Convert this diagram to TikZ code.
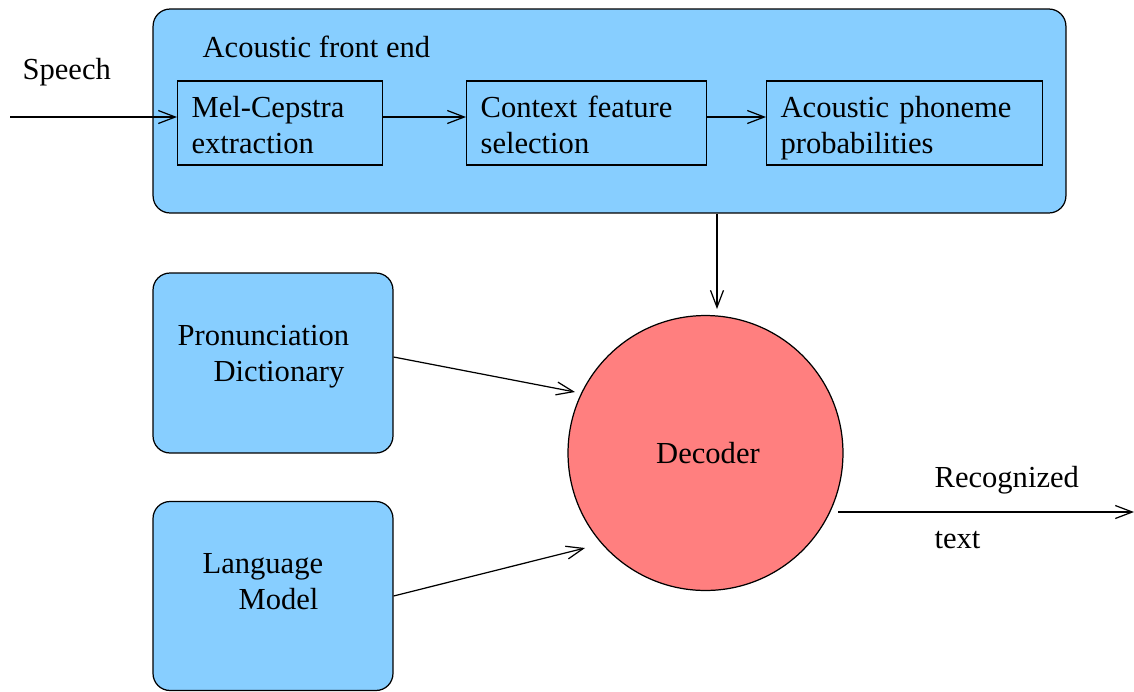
\documentclass[tikz,border=0pt]{standalone}
\usepackage{fontspec}
\setmainfont{Liberation Serif}
\usepackage{xcolor}
\usetikzlibrary{arrows.meta}

\definecolor{paleblue}{HTML}{87CEFF}
\definecolor{palered}{HTML}{FF7F7F}

\begin{document}
\begin{tikzpicture}[x=0.02cm,y=-0.02cm,line width=0.7pt,
  font=\fontsize{17.4}{20.5}\selectfont]
\tikzstyle{bigbox} = [draw, fill=paleblue, rounded corners=0.34cm]
\tikzstyle{stage} = [draw, fill=paleblue, align=left, anchor=west,
  minimum height=1.68cm, inner xsep=0.28cm, inner ysep=0pt, text width=3.4cm,
  execute at begin node=\rule{0pt}{20.4pt}, execute at end node=\strut]
\tikzstyle{flow} = [draw, -{Straight Barb[length=0.34cm,width=0.26cm]}]
%
\useasboundingbox (0,0) rectangle (1134,691);

	% acoustic front end
	\node[bigbox, minimum width=18.26cm, minimum height=4.08cm] (frontend) at (609.5,111) {};
	\node[anchor=west, inner sep=0pt] (fetitle) at (202,47) {Acoustic front end};
	\node[stage, text width=3.54cm] (melcep) at (177,123) {Mel-Cepstra\\extraction};
	\node[stage, text width=4.24cm] (context) at (466,123) {Context feature\\selection};
	\node[stage, text width=4.96cm] (phoneme) at (766,123) {Acoustic phoneme\\probabilities};

	% knowledge sources
	\node[bigbox, minimum width=4.8cm, minimum height=3.6cm] (dict) at (273,363) {};
	\node[anchor=north west, align=left, inner sep=0pt] (dicttext) at (177,325)
		{Pronunciation\\\hspace*{0.72cm}Dictionary};
	\node[bigbox, minimum width=4.8cm, minimum height=3.78cm] (langmodel) at (273,596) {};
	\node[anchor=north west, align=left, inner sep=0pt] (lmtext) at (202,553)
		{Language\\\hspace*{0.72cm}Model};

	% decoder
	\node[draw, circle, fill=palered, minimum size=5.5cm] (decoder) at (705.5,453)
		{\hspace*{0.1cm}Decoder};

	% inputs and outputs
	\coordinate (speechin) at (10,117);
	\node[anchor=west, inner sep=0pt] (speech) at (22,72) {Speech};
	\coordinate (fedown) at (717,309);
	\coordinate (dictin) at (575,392);
	\coordinate (lmin) at (585,548);
	\coordinate (textout) at (1134,512);
	\node[anchor=west, inner sep=0pt] (recog) at (934,480) {Recognized};
	\node[anchor=west, inner sep=0pt] (recogtext) at (934,540) {text};

	\draw[flow] (speechin) -- (speechin -| melcep.west);
	\draw[flow] (speechin -| melcep.east) -- (speechin -| context.west);
	\draw[flow] (speechin -| context.east) -- (speechin -| phoneme.west);
	\draw[flow] (frontend.south -| fedown) -- (fedown);
	\draw[flow] ([yshift=0.12cm]dict.east) -- (dictin);
	\draw[flow] (langmodel.east) -- (lmin);
	\draw[flow] (838,512) -- (textout);
\end{tikzpicture}
\end{document}
